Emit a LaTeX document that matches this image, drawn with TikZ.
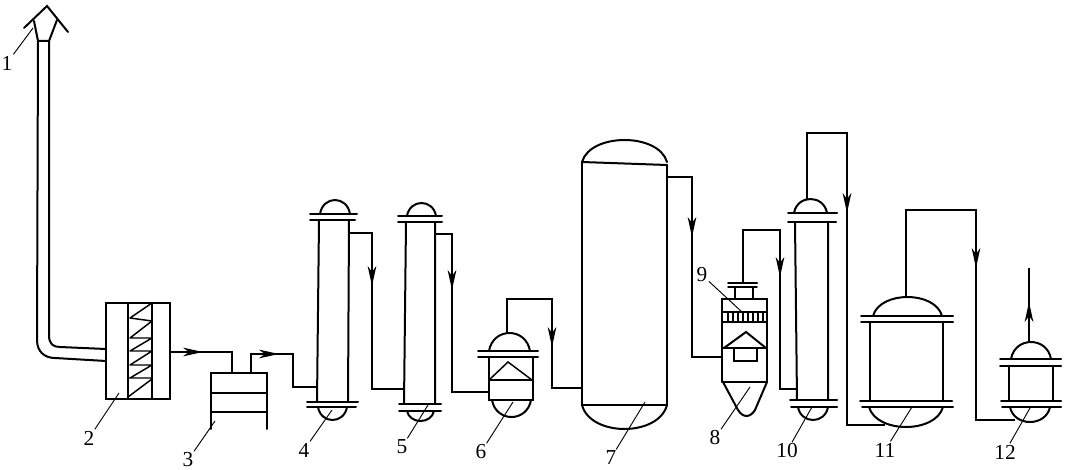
\documentclass[tikz,border=0pt]{standalone}
\usepackage{fontspec}
\setmainfont{Liberation Serif}
\usetikzlibrary{arrows.meta,calc}
\tikzset{
  vessel/.style={line width=1.5pt,line join=miter,line cap=round},
  thinwall/.style={line width=1.1pt,line cap=round},
  pipe/.style={line width=0.95pt,line join=miter},
  flowtip/.style={line width=0.95pt,-{Stealth[length=15pt,width=6.5pt,inset=4.5pt]}},
  leader/.style={line width=0.7pt},
  tag/.style={font=\fontsize{16}{16}\selectfont,inner sep=1pt,text=black}
}
\newcommand{\capdome}[4]{%
  \pgfmathsetmacro\dw{#2-#1}\pgfmathsetmacro\ctrly{#4+(#4-#3)/3}%
  \draw[vessel] (#1,#3) .. controls (#1+0.1*\dw,\ctrly) and (#2-0.1*\dw,\ctrly) .. (#2,#3);}
\begin{document}
\begin{tikzpicture}[x=0.75pt,y=-0.75pt]
\useasboundingbox (0,0) rectangle (1071,470);
\fill[white] (0,0) rectangle (1071,470);

% ---- 1 stack
\draw[vessel] (24,28) -- (47,6) -- (68,32);
\draw[vessel] (34,21) -- (38,41) -- (49,41) -- (57,20);
\coordinate (s2a) at (106,361); \coordinate (s2b) at (106,349);
\draw[vessel] (38,41) -- (37,340) .. controls (37,352) and (45,358) .. (55,358) -- (s2a);
\draw[vessel] (49,41) -- (49,335) .. controls (49,344) and (53,347) .. (60,347) -- (s2b);

% ---- 2 box
\draw[vessel] (106,303) rectangle (170,399);
\draw[vessel] (128,303) -- (128,399) (152,303) -- (152,399);
\draw[thinwall] (130,318) -- (152,303) (130,318) -- (152,321)
  (130,338) -- (152,321) (130,338) -- (152,338)
  (130,351) -- (152,338) (130,351) -- (152,351)
  (130,365) -- (152,351) (130,365) -- (152,365)
  (130,378) -- (152,365) (128,378) -- (152,378)
  (128,397) -- (152,379);

% ---- 3 box
\draw[vessel] (211,429) -- (211,373) -- (267,373) -- (267,429);
\draw[thinwall] (211,393) -- (267,393) (211,412) -- (267,412);

% ---- 4 column
\capdome{320}{350}{214}{200}
\draw[vessel] (310,214) -- (357,214) (310,220) -- (355,220)
  (307,402) -- (358,402) (307,407) -- (356,407);
\draw[vessel] (319,220) -- (317,402) (349,220) -- (348,402);
\capdome{318}{347}{407}{420}

% ---- 5 column
\capdome{407}{436}{216}{203}
\draw[vessel] (398,216) -- (442,216) (398,222) -- (442,222)
  (399,404) -- (441,404) (399,411) -- (441,411);
\draw[vessel] (406,222) -- (404,404) (435,222) -- (435,404);
\capdome{407}{434}{411}{421}

% ---- 6 vessel
\capdome{489}{530}{351}{333}
\draw[vessel] (478,351) -- (538,351) (478,357) -- (538,357);
\draw[vessel] (489,357) -- (489,400) -- (533,400) -- (533,357);
\draw[vessel] (489,380) -- (533,380);
\draw[thinwall] (489,380) -- (508,362) -- (532,380);
\capdome{492}{531}{400}{417}

% ---- 7 tank
\capdome{582}{667}{162}{140}
\draw[vessel] (582,162) -- (667,165);
\draw[vessel] (582,162) -- (582,405) -- (667,405) -- (667,165);
\capdome{582}{667}{405}{429}

% ---- 8 separator with 9 grid
\draw[vessel] (728,283) -- (757,283);
\draw[thinwall] (728,287) -- (757,287);
\draw[vessel] (735,287) -- (735,299) (753,287) -- (753,299);
\draw[vessel] (722,382) -- (722,299) -- (767,299) -- (767,382) -- (722,382);
\draw[vessel] (722,312) -- (767,312) (722,322) -- (767,322);
\foreach \xx in {728,733,738,743,748,753,758,763} \draw[thinwall] (\xx,312) -- (\xx,322);
\draw[vessel] (722,348) -- (767,348);
\draw[vessel] (724,348) -- (746,332) -- (766,348);
\draw[thinwall] (734,348) -- (734,361) -- (757,361) -- (757,348);
\draw[vessel] (723,382) -- (738,410) .. controls (743,418) and (750,418) .. (755,410) -- (767,382);

% ---- 10 column
\capdome{794}{827}{213}{199}
\draw[vessel] (788,213) -- (837,213) (788,222) -- (836,222)
  (790,400) -- (837,400) (791,407) -- (837,407);
\draw[vessel] (795,222) -- (797,400) (828,222) -- (828,400);
\capdome{798}{828}{407}{420}

% ---- 11 vessel
\capdome{873}{942}{316}{297}
\draw[vessel] (861,316) -- (953,316) (861,322) -- (953,322)
  (860,401) -- (952,401) (862,407) -- (953,407);
\draw[vessel] (870,322) -- (870,401) (943,322) -- (943,401);
\capdome{869}{943}{407}{427}

% ---- 12 vessel
\capdome{1011}{1051}{359}{342}
\draw[vessel] (1000,359) -- (1061,359) (1000,366) -- (1061,366)
  (1001,401) -- (1061,401) (1002,407) -- (1061,407);
\draw[vessel] (1009,366) -- (1009,401) (1053,366) -- (1053,401);
\capdome{1010}{1050}{407}{422}

% ---- connection points
\coordinate (o2) at (170,352);   \coordinate (a2) at (203,352);   \coordinate (i3) at (232,373);
\coordinate (o3) at (251,373);   \coordinate (a3) at (279,354);   \coordinate (i4) at (318,387);
\coordinate (o4) at (349,233);   \coordinate (a4) at (372,286);   \coordinate (i5) at (405,389);
\coordinate (o5) at (436,234);   \coordinate (a5) at (452,290);   \coordinate (i6) at (489,392);
\coordinate (o6) at (507,333);   \coordinate (a6) at (552,347);   \coordinate (i7) at (582,388);
\coordinate (o7) at (667,177);   \coordinate (a7) at (692,237);   \coordinate (i8) at (722,357);
\coordinate (o8) at (743,283);   \coordinate (a8) at (780,277);   \coordinate (i10) at (797,389);
\coordinate (o10) at (807,199);  \coordinate (a10) at (847,213);  \coordinate (i11) at (885,425);
\coordinate (o11) at (906,297);  \coordinate (a11) at (976,268);  \coordinate (i12) at (1015,420);
\coordinate (o12) at (1029,342); \coordinate (a12) at (1029,302); \coordinate (e12) at (1029,268);
\coordinate (b3) at (293,354);

% ---- connectors
\draw[pipe] (o2) -- (a2) -| (i3);
\draw[pipe] (o3) |- (b3) |- (i4);
\draw[pipe] (o4) -| (a4) |- (i5);
\draw[pipe] (o5) -| (a5) |- (i6);
\draw[pipe] (o6) -- (507,299) -| (a6) |- (i7);
\draw[pipe] (o7) -| (a7) |- (i8);
\draw[pipe] (o8) -- (743,230) -| (a8) |- (i10);
\draw[pipe] (o10) -- (807,133) -| (a10) |- (i11);
\draw[pipe] (o11) -- (906,210) -| (a11) |- (i12);
\draw[pipe] (o12) -- (e12);

% ---- arrowheads on the connectors
\draw[flowtip] ($(a2)+(-21,0)$) -- (a2);
\draw[flowtip] ($(a3)+(-21,0)$) -- (a3);
\foreach \p in {a4,a5,a6,a7,a8,a10,a11} \draw[flowtip] ($(\p)+(0,-21)$) -- (\p);
\draw[flowtip] ($(a12)+(0,21)$) -- (a12);

% ---- labels and leaders
\node[tag] (l1) at (7,63) {1};       \coordinate (t1) at (33,28);
\node[tag] (l2) at (89,438) {2};     \coordinate (t2) at (119,393);
\node[tag] (l3) at (188,460) {3};    \coordinate (t3) at (215,421);
\node[tag] (l4) at (304,450) {4};    \coordinate (t4) at (332,410);
\node[tag] (l5) at (402,447) {5};    \coordinate (t5) at (428,405);
\node[tag] (l6) at (481,452) {6};    \coordinate (t6) at (513,402);
\node[tag] (l7) at (611,458) {7};    \coordinate (t7) at (645,402);
\node[tag] (l8) at (715,438) {8};    \coordinate (t8) at (750,387);
\node[tag] (l9) at (702,275) {9};    \coordinate (t9) at (742,312);
\node[tag] (l10) at (787,451) {10};  \coordinate (t10) at (812,407);
\node[tag] (l11) at (885,450) {11};  \coordinate (t11) at (912,407);
\node[tag] (l12) at (1005,452) {12}; \coordinate (t12) at (1030,408);
\foreach \n in {1,...,12} \draw[leader] (l\n) -- (t\n);
\end{tikzpicture}
\end{document}
